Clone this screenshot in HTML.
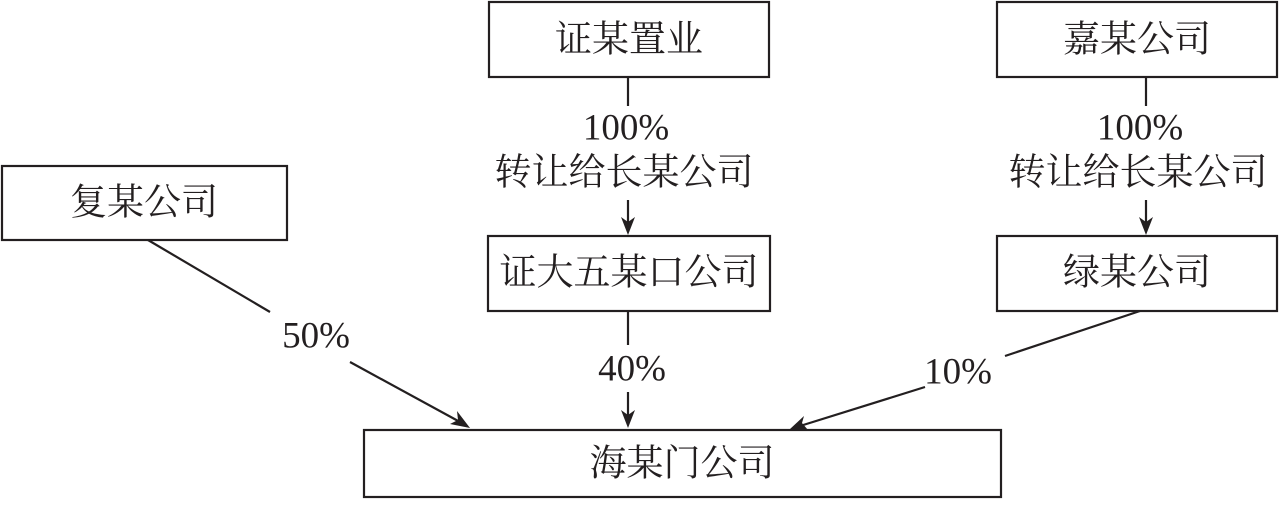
<!DOCTYPE html>
<html><head><meta charset="utf-8"><style>
body{margin:0;background:#fff;}
svg text{font-family:"Liberation Serif","Noto Serif CJK SC",serif;font-size:37px;fill:#231f20;text-anchor:middle;dominant-baseline:central;}
</style></head><body>
<svg width="1284" height="500" viewBox="0 0 1284 500" xmlns="http://www.w3.org/2000/svg">
<defs><marker id="a" markerWidth="12" markerHeight="14" refX="6" refY="14" orient="auto-start-reverse" markerUnits="userSpaceOnUse" viewBox="0 0 12 14">
</marker></defs>
<g fill="none" stroke="#231f20" stroke-width="2.2">
<rect x="489" y="2" width="280" height="75"/>
<rect x="997" y="2" width="280" height="75"/>
<rect x="2" y="166" width="285" height="74"/>
<rect x="488" y="236" width="282" height="75"/>
<rect x="997" y="236" width="280" height="75"/>
<rect x="364" y="430" width="637" height="67"/>
<line x1="628" y1="77" x2="628" y2="106"/>
<line x1="628" y1="200" x2="628" y2="225"/>
<line x1="1146" y1="77" x2="1146" y2="106"/>
<line x1="1146" y1="200" x2="1146" y2="225"/>
<line x1="628" y1="311" x2="628" y2="345"/>
<line x1="628" y1="392" x2="628" y2="418"/>
<line x1="148" y1="240" x2="270" y2="312"/>
<line x1="350" y1="362" x2="460" y2="422"/>
<line x1="1140" y1="311" x2="1005" y2="356"/>
<line x1="925" y1="387" x2="800" y2="426"/>
</g>
<g fill="#231f20">
<polygon points="628,235 621,217 628,222 635,217"/>
<polygon points="1146,235 1139,217 1146,222 1153,217"/>
<polygon points="628,428 621,410 628,415 635,410"/>
<polygon points="470,428 450,424 458,420 457,411"/>
<polygon points="790,429 804,416 802,423 808,430"/>
</g>
<text x="629" y="40">证某置业</text>
<text x="1137" y="40">嘉某公司</text>
<text x="144" y="203">复某公司</text>
<text x="629" y="273">证大五某口公司</text>
<text x="1137" y="273">绿某公司</text>
<text x="682" y="464">海某门公司</text>
<text x="626" y="128">100%</text>
<text x="624" y="173">转让给长某公司</text>
<text x="1140" y="128">100%</text>
<text x="1138" y="173">转让给长某公司</text>
<text x="316" y="336">50%</text>
<text x="632" y="369">40%</text>
<text x="958" y="372">10%</text>
</svg>
</body></html>
